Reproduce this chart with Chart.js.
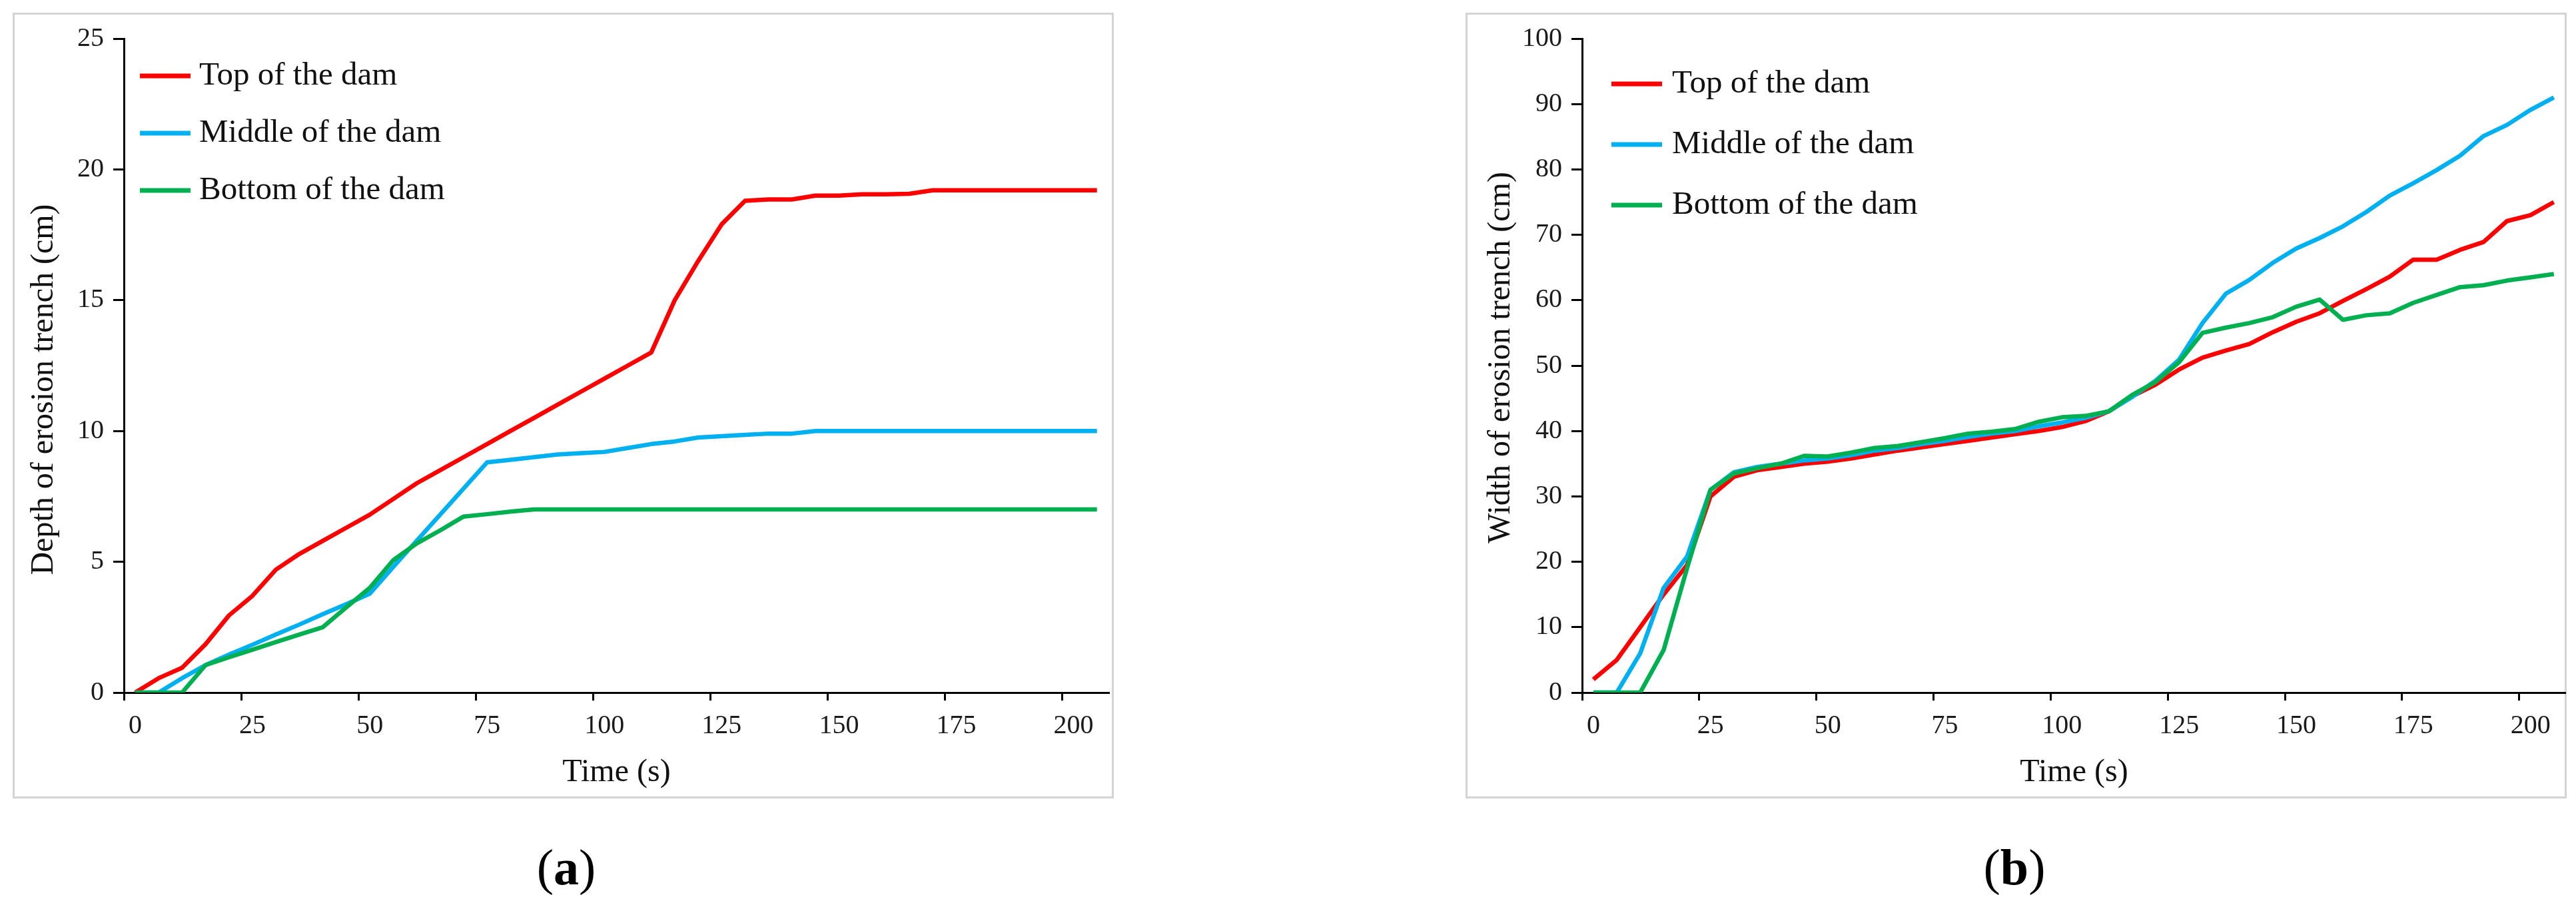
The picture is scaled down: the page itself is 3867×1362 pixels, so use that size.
<!DOCTYPE html>
<html>
<head>
<meta charset="utf-8">
<script src="https://cdn.jsdelivr.net/npm/chart.js@4.4.1/dist/chart.umd.min.js"></script>
<style>
  html, body { margin: 0; padding: 0; background: #fff; }
  body { width: 3867px; height: 1362px; position: relative; overflow: hidden; font-family: 'Liberation Serif', 'Times New Roman', serif; }
  .panel { position: absolute; top: 20px; width: 1651px; height: 1178px; outline: 3px solid #d4d4d4; outline-offset: -2px; }
  .panel canvas { position: absolute; left: 0; top: 0; }
  .caption { position: absolute; top: 1258px; font-size: 76px; line-height: 88px; color: #000; transform: translateX(-50%); white-space: nowrap; }
  .caption b { font-weight: bold; }
</style>
</head>
<body>
  <div class="panel" style="left:20px"><canvas id="depth-chart" width="1651" height="1178"></canvas></div>
  <div class="panel" style="left:2201px"><canvas id="width-chart" width="1651" height="1178"></canvas></div>
  <div class="caption" style="left:850px">(<b>a</b>)</div>
  <div class="caption" style="left:3024px">(<b>b</b>)</div>
<script>
// time in seconds, one reading every 5 s
const timeSteps = [0, 5, 10, 15, 20, 25, 30, 35, 40, 45, 50, 55, 60, 65, 70, 75, 80, 85, 90, 95, 100,
  105, 110, 115, 120, 125, 130, 135, 140, 145, 150, 155, 160, 165, 170, 175, 180, 185, 190, 195, 200, 205]
const xTickLabels = [0, 25, 50, 75, 100, 125, 150, 175, 200]
const seriesNames = ['Top of the dam', 'Middle of the dam', 'Bottom of the dam']
const seriesColors = ['#ff0000', '#00b0f0', '#00b050']

// (a) depth of erosion trench (cm)
const depthTop = [0, 0.55, 0.95, 1.85, 2.95, 3.7, 4.7, 5.3, 5.8, 6.3, 6.8, 7.4, 8.0, 8.5, 9.0, 9.5, 10.0,
  10.5, 11.0, 11.5, 12.0, 12.5, 13.0, 15.0, 16.5, 17.9, 18.8, 18.85, 18.85, 19.0, 19.0, 19.05, 19.05,
  19.07, 19.2, 19.2, 19.2, 19.2, 19.2, 19.2, 19.2, 19.2]
const depthMiddle = [0, 0, 0.55, 1.05, 1.45, 1.83, 2.22, 2.6, 3.0, 3.38, 3.78, 4.8, 5.8, 6.8, 7.8, 8.8,
  8.9, 9.0, 9.1, 9.15, 9.2, 9.35, 9.5, 9.6, 9.75, 9.8, 9.85, 9.9, 9.9, 10.0, 10.0, 10.0, 10.0, 10.0,
  10.0, 10.0, 10.0, 10.0, 10.0, 10.0, 10.0, 10.0]
const depthBottom = [0, 0, 0, 1.05, 1.35, 1.64, 1.93, 2.22, 2.5, 3.26, 4.0, 5.06, 5.7, 6.2, 6.73, 6.82,
  6.92, 7.0, 7.0, 7.0, 7.0, 7.0, 7.0, 7.0, 7.0, 7.0, 7.0, 7.0, 7.0, 7.0, 7.0, 7.0, 7.0, 7.0, 7.0, 7.0,
  7.0, 7.0, 7.0, 7.0, 7.0, 7.0]
const depthTicks = [0, 5, 10, 15, 20, 25]

// (b) width of erosion trench (cm)
const widthTop = [2.0, 5.0, 10.0, 15.0, 19.5, 30.0, 33.0, 34.0, 34.5, 35.0, 35.3, 35.8, 36.4, 37.0,
  37.5, 38.0, 38.5, 39.0, 39.5, 40.0, 40.6, 41.5, 43.0, 45.3, 47.1, 49.4, 51.2, 52.3, 53.3, 55.1, 56.7,
  58.0, 59.9, 61.7, 63.6, 66.2, 66.2, 67.7, 68.9, 72.1, 73.0, 75.0]
const widthMiddle = [0, 0, 6.0, 16.0, 20.8, 31.0, 33.7, 34.5, 35.0, 35.5, 35.8, 36.3, 37.0, 37.4, 38.0,
  38.5, 39.1, 39.6, 40.0, 40.7, 41.3, 42.0, 43.0, 45.2, 47.7, 50.9, 56.5, 61.0, 63.1, 65.7, 67.9, 69.5,
  71.3, 73.5, 76.0, 77.9, 79.9, 82.1, 85.1, 86.8, 89.1, 91.0]
const widthBottom = [0, 0, 0, 6.5, 19.0, 31.0, 33.5, 34.3, 35.0, 36.2, 36.1, 36.7, 37.4, 37.7, 38.3,
  38.9, 39.6, 39.9, 40.3, 41.4, 42.1, 42.3, 43.0, 45.5, 47.5, 50.5, 55.0, 55.8, 56.5, 57.4, 59.0, 60.1,
  57.0, 57.7, 58.0, 59.6, 60.8, 62.0, 62.3, 63.0, 63.5, 64.0]
const widthTicks = [0, 10, 20, 30, 40, 50, 60, 70, 80, 90, 100]

const SERIF = "'Liberation Serif', 'Times New Roman', serif"
// the tick marks sit a little left of their labels in the original figure
const TICK_SHIFT = 2.4

// legend drawn inside the plot area, top left
const insideLegend = {
  id: 'insideLegend',
  afterDatasetsDraw(chart, args, opts) {
    const { ctx, chartArea } = chart
    ctx.save()
    ctx.font = `49px ${SERIF}`
    ctx.textBaseline = 'middle'
    ctx.textAlign = 'left'
    chart.data.datasets.forEach((ds, i) => {
      const x = chartArea.left + opts.left
      const y = chartArea.top + opts.top + i * opts.spacing
      ctx.strokeStyle = ds.borderColor
      ctx.lineWidth = 7
      ctx.lineCap = 'butt'
      ctx.beginPath()
      ctx.moveTo(x, y)
      ctx.lineTo(x + 76, y)
      ctx.stroke()
      ctx.fillStyle = '#111'
      ctx.fillText(ds.label, x + 76 + opts.gap, y)
    })
    ctx.restore()
  }
}

function makeDatasets(values) {
  return values.map((vals, i) => ({
    label: seriesNames[i],
    data: timeSteps.map((t, j) => ({ x: t, y: vals[j] })),
    borderColor: seriesColors[i],
    backgroundColor: seriesColors[i],
    borderWidth: 6.5,
    borderJoinStyle: 'round',
    pointRadius: 0,
    tension: 0,
    order: 3 - i
  }))
}

function makeChart(canvasId, values, yTitle, yTicks, yAxisWidth, yTitlePad, legendPos) {
  const yMax = yTicks[yTicks.length - 1]
  return new Chart(document.getElementById(canvasId), {
    type: 'line',
    data: { datasets: makeDatasets(values) },
    plugins: [insideLegend],
    options: {
      responsive: false,
      animation: false,
      layout: { padding: { left: 0, top: 30, right: 1651 - 1645 - (yAxisWidth - 166), bottom: 8 } },
      plugins: {
        legend: { display: false },
        tooltip: { enabled: false },
        insideLegend: legendPos
      },
      scales: {
        x: {
          type: 'linear',
          min: -TICK_SHIFT,
          max: 207.6,
          afterBuildTicks: (scale) => {
            scale.ticks = xTickLabels.map(v => ({ value: v - TICK_SHIFT }))
          },
          afterFit: (scale) => { scale.height = 150 },
          border: { display: true, color: '#000', width: 3 },
          grid: { display: true, drawOnChartArea: false, drawTicks: true, tickLength: 12, tickWidth: 3, tickColor: '#000' },
          ticks: {
            autoSkip: false,
            maxRotation: 0,
            padding: 14,
            labelOffset: 17,
            color: '#1a1a1a',
            font: { family: SERIF, size: 40 },
            callback: (value) => Math.round(value + TICK_SHIFT)
          },
          title: {
            display: true,
            text: 'Time (s)',
            color: '#111',
            font: { family: SERIF, size: 48 },
            padding: { top: 0, bottom: 1 }
          }
        },
        y: {
          min: 0,
          max: yMax,
          afterBuildTicks: (scale) => {
            scale.ticks = yTicks.map(v => ({ value: v }))
          },
          afterFit: (scale) => { scale.width = yAxisWidth },
          border: { display: true, color: '#000', width: 3 },
          grid: { display: true, drawOnChartArea: false, drawTicks: true, tickLength: 16, tickWidth: 3, tickColor: '#000' },
          ticks: {
            padding: 14,
            color: '#1a1a1a',
            font: { family: SERIF, size: 40 }
          },
          title: {
            display: true,
            text: yTitle,
            color: '#111',
            font: { family: SERIF, size: 48 },
            padding: { top: yTitlePad, bottom: 0 }
          }
        }
      }
    }
  })
}

// the spaces nudge the rotated titles to where they sit in the original
makeChart('depth-chart', [depthTop, depthMiddle, depthBottom], 'Depth of erosion trench (cm)      ',
  depthTicks, 166, 18, { left: 24, top: 56, spacing: 86, gap: 13 })
makeChart('width-chart', [widthTop, widthMiddle, widthBottom], '  Width of erosion trench (cm)',
  widthTicks, 174, 24, { left: 44, top: 68, spacing: 91, gap: 15 })
</script>
</body>
</html>
